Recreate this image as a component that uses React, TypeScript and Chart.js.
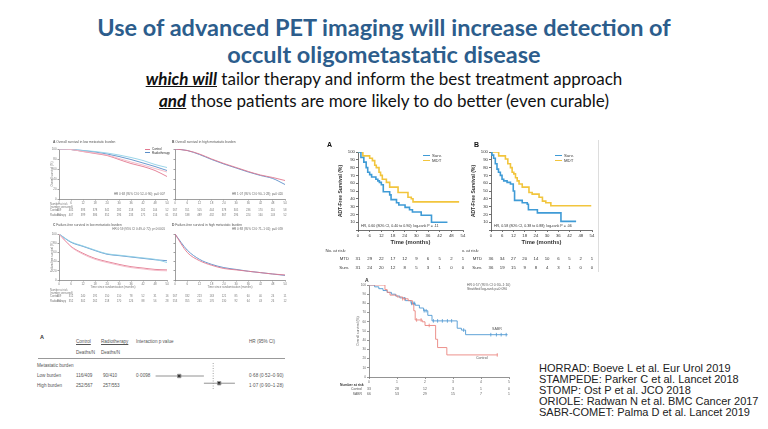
import React, { useEffect, useRef } from "react";
import { Chart, registerables } from "chart.js";

Chart.register(...registerables);

const FAM = '"Liberation Sans", Arial, sans-serif';
const TFAM = 'Lato, "Open Sans", sans-serif';
const TITLE_COLOR = "#2c5d8c";
const SURV_BLUE = "#3f9bd6";
const MDT_YELLOW = "#f2c53d";
const CTRL_RED = "#e2788f";
const CTRL_RED_LT = "#f3b6c4";
const RT_BLUE = "#5b8ec8";
const RT_BLUE_LT = "#8fd0e6";
const SABR_BLUE = "#4f98d2";
const SABR_RED = "#ea857f";

// ---------------- STOMP (ADT-free survival, months) ----------------
const stompMonths = [0, 6, 12, 18, 24, 30, 36, 42, 48, 54];
const stompPct = [0, 10, 20, 30, 40, 50, 60, 70, 80, 90, 100];
const stompA_survT = [0, 1.5, 3.0, 4.2, 5.0, 6.0, 7.0, 9.2, 10.2, 11.0, 12.0, 13.0, 16.3, 17.0, 19.8, 21.0, 24.2, 26.5, 28.0, 32.5, 37.8, 46.0];
const stompA_survS = [100, 93, 87, 80, 74, 71, 68, 65, 63, 61, 58, 49, 45, 39, 35, 32, 29, 26, 23, 19, 10, 10];
const stompA_mdtT = [0, 2.5, 6.0, 7.4, 8.6, 9.4, 10.8, 11.6, 12.5, 14.6, 16.3, 20.6, 25.7, 27.4, 28.3, 52.0];
const stompA_mdtS = [100, 95, 92, 89, 83, 80, 74, 70, 65, 61, 55, 48, 42, 40, 36, 36];
const stompA_riskMdt = [31, 29, 22, 17, 12, 9, 6, 5, 2, 1];
const stompA_riskSurv = [31, 24, 20, 12, 8, 5, 3, 1, 0, 0];
const stompB_survT = [0, 0.5, 1.4, 2.3, 3.2, 4.0, 5.0, 5.9, 6.8, 8.6, 10.4, 11.9, 12.6, 16.7, 19.4, 20.0, 24.8, 37.4, 45.5];
const stompB_survS = [100, 96, 92, 85, 78, 74, 70, 65, 63, 61, 59, 50, 38, 35, 33, 26, 22, 11, 11];
const stompB_mdtT = [0, 4.1, 7.7, 9.0, 10.4, 11.3, 12.2, 13.1, 14.0, 15.0, 16.7, 20.3, 22.0, 25.7, 27.5, 29.3, 32.0, 53.6];
const stompB_mdtS = [100, 95, 91, 85, 80, 74, 72, 67, 63, 59, 55, 48, 46, 42, 37, 35, 31, 31];
const stompB_riskMdt = [36, 34, 27, 20, 14, 10, 6, 5, 2, 1];
const stompB_riskSurv = [36, 19, 15, 9, 8, 4, 3, 1, 0, 0];

// ---------------- SABR-COMET (overall survival, years) ----------------
const sabrYears = [0, 1, 2, 3, 4, 5];
const sabrPct = [0, 10, 20, 30, 40, 50, 60, 70, 80, 90, 100];
const sabrT = [0, 0.2, 0.35, 0.5, 0.65, 0.8, 0.95, 1.1, 1.3, 1.5, 1.65, 1.8, 1.95, 2.1, 2.25, 3.15, 3.3, 3.45, 4.95];
const sabrS = [100, 98, 96, 94, 92, 90, 88, 86, 83, 80, 78, 75, 72, 67, 61, 53, 51, 46, 46];
const ctrlT = [0, 0.57, 0.65, 0.75, 1.0, 1.2, 1.4, 1.55, 1.6, 1.65, 1.9, 2.0, 2.38, 2.45, 2.78, 4.6];
const ctrlS = [100, 95, 92, 89, 87, 85, 83, 79, 72, 62, 60, 56, 41, 32, 24, 24];
const sabrCensorT = [1.52, 1.58, 1.63, 1.97, 2.04, 2.3, 2.45, 2.62, 2.8, 2.95, 3.38, 4.35, 4.55, 4.72, 4.9];
const ctrlCensorT = [1.2, 1.27, 1.7, 1.86, 2.15, 4.58];
const sabrRiskControl = [33, 28, 12, 3, 1, 0];
const sabrRiskSabr = [66, 53, 29, 15, 7, 1];

// ---------------- STAMPEDE (months) ----------------
const stampMonths = [0, 6, 12, 18, 24, 30, 36, 42, 48, 54];
const stampPct = [0, 20, 40, 60, 80, 100];
const stampA_ctrl = [100, 99, 95, 91, 87, 79, 71, 65, 57, 45];
const stampA_ctrlAlt = [100, 99, 95, 92, 88, 81, 74, 68, 61, 54];
const stampA_rt = [100, 99, 97, 94, 90, 85, 79, 72, 65, 57];
const stampA_rtAlt = [100, 99, 97, 95, 92, 88, 83, 77, 69, 63];
const stampB_ctrl = [100, 97, 90, 80, 71, 63, 55, 48, 43, 37];
const stampB_rt = [100, 97, 89, 79, 70, 62, 54, 47, 41, 29];
const stampC_ctrl = [100, 73, 58, 47, 40, 34, 29, 26, 23, 22];
const stampC_ctrlAlt = [100, 72, 56, 45, 38, 32, 27, 24, 21, 20];
const stampC_rt = [100, 82, 73, 64, 56, 53, 50, 47, 44, 42];
const stampC_rtAlt = [100, 83, 74, 65, 57, 54, 51, 48, 45, 38];
const stampD_ctrl = [100, 60, 42, 32, 25, 22, 19, 16, 13, 11];
const stampD_rt = [100, 65, 45, 34, 27, 23, 19, 16, 13, 10];
const stampA_riskCtrl = [409, 405, 393, 378, 341, 282, 218, 162, 104, 52];
const stampA_riskRt = [410, 407, 399, 386, 352, 296, 233, 175, 116, 61];
const stampB_riskCtrl = [567, 551, 505, 444, 378, 305, 236, 170, 110, 58];
const stampB_riskRt = [553, 538, 489, 432, 367, 296, 224, 160, 103, 52];
const stampC_riskCtrl = [409, 312, 240, 191, 150, 110, 78, 52, 31, 16];
const stampC_riskRt = [410, 352, 302, 262, 218, 170, 126, 88, 56, 28];
const stampD_riskCtrl = [567, 332, 223, 163, 121, 85, 60, 40, 24, 11];
const stampD_riskRt = [553, 355, 245, 176, 130, 92, 64, 43, 26, 12];

// ---------------- STAMPEDE forest plot ----------------
const forestRows = ["Low burden", "High burden"];
const forestCtrl = ["116/409", "252/567"];
const forestRt = ["90/410", "257/553"];
const forestP = ["0·0098", ""];
const forestHR = [0.68, 1.07];
const forestLo = [0.52, 0.9];
const forestHi = [0.9, 1.28];
const forestHRtxt = ["0·68 (0·52–0·90)", "1·07 (0·90–1·28)"];

// ---------------- references ----------------
const references = [
  "HORRAD: Boeve L et al. Eur Urol 2019",
  "STAMPEDE: Parker C et al. Lancet 2018",
  "STOMP: Ost P et al. JCO 2018",
  "ORIOLE: Radwan N et al. BMC Cancer 2017",
  "SABR-COMET: Palma D et al. Lancet 2019",
];

// ---------------- helpers ----------------
const fitAxis = (size: number, vertical: boolean) => (s: any) => {
  if (vertical) s.width = size;
  else s.height = size;
  s.paddingLeft = 0;
  s.paddingRight = 0;
  s.paddingTop = 0;
  s.paddingBottom = 0;
};

interface AxOpt {
  min: number;
  max: number;
  ticks: number[];
  size: number;
  font: number;
  color: string;
  title?: string;
  titleFont?: number;
  bold?: boolean;
  labels?: boolean;
  hideZero?: boolean;
  tickLen?: number;
}

function axis(vertical: boolean, o: AxOpt) {
  return {
    type: "linear",
    min: o.min,
    max: o.max,
    afterBuildTicks: (s: any) => {
      s.ticks = o.ticks.map((v) => ({ value: v }));
    },
    afterFit: fitAxis(o.size, vertical),
    grid: { display: true, drawOnChartArea: false, drawTicks: true, tickLength: o.tickLen ?? 2, color: o.color, lineWidth: 0.7 },
    border: { display: true, color: o.color, width: 0.7 },
    ticks: {
      display: o.labels !== false,
      autoSkip: false,
      maxRotation: 0,
      minRotation: 0,
      padding: 1,
      color: o.color,
      font: { size: o.font, family: FAM },
      callback: (v: any) => (o.hideZero && Number(v) === 0 ? "" : String(v)),
    },
    title: {
      display: !!o.title,
      text: o.title || "",
      color: o.color,
      padding: 0,
      font: { size: o.titleFont || o.font, family: FAM, weight: o.bold ? "bold" : "normal" },
    },
  };
}

const km = (T: number[], S: number[], color: string, width = 1.2) => ({
  data: T.map((t, i) => ({ x: t, y: S[i] })),
  borderColor: color,
  backgroundColor: color,
  borderWidth: width,
  stepped: "before",
  pointRadius: 0,
  fill: false,
});

const smooth = (T: number[], S: number[], color: string, width = 0.9) => ({
  data: T.map((t, i) => ({ x: t, y: S[i] })),
  borderColor: color,
  backgroundColor: color,
  borderWidth: width,
  cubicInterpolationMode: "monotone",
  pointRadius: 0,
  fill: false,
});

const stepAt = (T: number[], S: number[], t: number) => {
  let v = S[0];
  for (let i = 0; i < T.length; i++) if (T[i] <= t) v = S[i];
  return v;
};

const censor = (times: number[], T: number[], S: number[], color: string) => ({
  data: times.map((t) => ({ x: t, y: stepAt(T, S, t) })),
  showLine: false,
  pointStyle: "line",
  rotation: 90,
  pointRadius: 1.8,
  borderColor: color,
  backgroundColor: color,
  borderWidth: 0.8,
});

interface RiskRow {
  label: string;
  values?: (number | string)[];
  dy: number;
  bold?: boolean;
}

function riskPlugin(o: {
  times: number[];
  rows: RiskRow[];
  font: number;
  color: string;
  labelAlign: "left" | "right";
  labelX: number;
}) {
  return {
    id: "riskTable",
    afterDraw(chart: any) {
      const { ctx, chartArea } = chart;
      const xs = chart.scales.x;
      ctx.save();
      ctx.fillStyle = o.color;
      ctx.textBaseline = "middle";
      for (const r of o.rows) {
        const y = chartArea.bottom + r.dy;
        ctx.font = `${r.bold ? "bold " : ""}${o.font}px ${FAM}`;
        if (o.labelAlign === "left") {
          ctx.textAlign = "left";
          ctx.fillText(r.label, o.labelX, y);
        } else {
          ctx.textAlign = "right";
          ctx.fillText(r.label, chartArea.left - o.labelX, y);
        }
        ctx.font = `${o.font}px ${FAM}`;
        ctx.textAlign = "center";
        (r.values || []).forEach((v, i) => ctx.fillText(String(v), xs.getPixelForValue(o.times[i]), y));
      }
      ctx.restore();
    },
  };
}

const baseOpts = {
  responsive: false,
  maintainAspectRatio: false,
  animation: false,
  devicePixelRatio: 1,
  events: [],
  plugins: { legend: { display: false }, tooltip: { enabled: false }, title: { display: false } },
};

function ChartBox({ x, y, w, h, cfg }: { x: number; y: number; w: number; h: number; cfg: () => any }) {
  const ref = useRef<HTMLCanvasElement | null>(null);
  useEffect(() => {
    if (!ref.current) return;
    const c = new Chart(ref.current, cfg());
    return () => c.destroy();
  }, []);
  return (
    <div style={{ position: "absolute", left: x, top: y, width: w, height: h }}>
      <canvas ref={ref} width={w} height={h} style={{ display: "block", width: w, height: h }} />
    </div>
  );
}

// ---------------- chart configs ----------------
function stompCfg(survT: number[], survS: number[], mdtT: number[], mdtS: number[], riskMdt: number[], riskSurv: number[], padLeft: number) {
  return {
    type: "line",
    data: { datasets: [km(survT, survS, SURV_BLUE, 1.6), km(mdtT, mdtS, MDT_YELLOW, 1.6)] },
    options: {
      ...baseOpts,
      layout: { padding: { left: padLeft, top: 7, right: 5, bottom: 42 } },
      scales: {
        x: axis(false, { min: 0, max: 54, ticks: stompMonths, size: 16, font: 4.3, color: "#333", title: "Time (months)", titleFont: 5.8, bold: true }),
        y: axis(true, { min: 0, max: 100, ticks: stompPct, size: 20, font: 4.3, color: "#333", title: "ADT-Free Survival (%)", titleFont: 5, bold: true, hideZero: true }),
      },
    },
    plugins: [
      riskPlugin({
        times: stompMonths,
        font: 4.3,
        color: "#333",
        labelAlign: "right",
        labelX: 9,
        rows: [
          { label: "MTD", values: riskMdt, dy: 29 },
          { label: "Surv.", values: riskSurv, dy: 37.5 },
        ],
      }),
      {
        id: "noRisk",
        afterDraw(chart: any) {
          const { ctx, chartArea } = chart;
          ctx.save();
          ctx.fillStyle = "#333";
          ctx.font = `4.3px ${FAM}`;
          ctx.textBaseline = "middle";
          ctx.textAlign = "right";
          ctx.fillText("No. at risk:", chartArea.left - 12, chartArea.bottom + 21);
          ctx.restore();
        },
      },
    ],
  };
}

function sabrCfg() {
  return {
    type: "line",
    data: {
      datasets: [
        km(ctrlT, ctrlS, SABR_RED, 0.9),
        km(sabrT, sabrS, SABR_BLUE, 0.9),
        censor(ctrlCensorT, ctrlT, ctrlS, SABR_RED),
        censor(sabrCensorT, sabrT, sabrS, SABR_BLUE),
      ],
    },
    options: {
      ...baseOpts,
      layout: { padding: { left: 18, top: 8, right: 6, bottom: 14 } },
      scales: {
        x: axis(false, { min: 0, max: 5, ticks: sabrYears, size: 8, font: 3.4, color: "#666" }),
        y: axis(true, { min: 0, max: 100, ticks: sabrPct, size: 13, font: 3.2, color: "#666", title: "Overall survival (%)", titleFont: 3.4 }),
      },
    },
    plugins: [
      riskPlugin({
        times: sabrYears,
        font: 3.4,
        color: "#555",
        labelAlign: "right",
        labelX: 7,
        rows: [
          { label: "Control", values: sabrRiskControl, dy: 12 },
          { label: "SABR", values: sabrRiskSabr, dy: 17 },
        ],
      }),
      {
        id: "numRisk",
        afterDraw(chart: any) {
          const { ctx, chartArea } = chart;
          ctx.save();
          ctx.fillStyle = "#333";
          ctx.font = `bold 3.4px ${FAM}`;
          ctx.textBaseline = "middle";
          ctx.textAlign = "left";
          ctx.fillText("Number at risk", 2, chartArea.bottom + 8);
          ctx.restore();
        },
      },
    ],
  };
}

function stampCfg(o: {
  lines: any[];
  padT: number;
  padB: number;
  yW: number;
  xH: number;
  yLabels: boolean;
  yTitle?: string;
  xTitle?: string;
  riskCtrl: number[];
  riskRt: number[];
  dyCtrl: number;
  dyRt: number;
  leftLabels: boolean;
}) {
  const rows: RiskRow[] = [
    { label: o.leftLabels ? "Control" : "", values: o.riskCtrl, dy: o.dyCtrl },
    { label: o.leftLabels ? "Radiotherapy" : "", values: o.riskRt, dy: o.dyRt },
  ];
  if (o.leftLabels) {
    rows.unshift({ label: "(number censored)", dy: o.dyCtrl - 3.3 });
    rows.unshift({ label: "Number at risk", dy: o.dyCtrl - 6.6 });
  }
  return {
    type: "line",
    data: { datasets: o.lines },
    options: {
      ...baseOpts,
      layout: { padding: { left: 0, top: o.padT, right: 3, bottom: o.padB } },
      scales: {
        x: axis(false, { min: 0, max: 54, ticks: stampMonths, size: o.xH, font: 2.9, color: "#777", title: o.xTitle, titleFont: 2.9, tickLen: 1.5 }),
        y: axis(true, { min: 0, max: 100, ticks: stampPct, size: o.yW, font: 2.9, color: "#777", title: o.yTitle, titleFont: 2.9, labels: o.yLabels, tickLen: 1.5 }),
      },
    },
    plugins: [
      riskPlugin({
        times: stampMonths,
        font: 2.7,
        color: "#777",
        labelAlign: "left",
        labelX: 0,
        rows,
      }),
    ],
  };
}

function forestCfg() {
  const ciSets = forestRows.map((_, i) => ({
    data: [
      { x: forestLo[i], y: i + 1 },
      { x: forestHi[i], y: i + 1 },
    ],
    borderColor: "#777",
    borderWidth: 0.8,
    pointRadius: 0,
    fill: false,
  }));
  return {
    type: "line",
    data: {
      datasets: [
        {
          data: [
            { x: 1, y: -0.8 },
            { x: 1, y: 2.8 },
          ],
          borderColor: "#8a8a8a",
          borderWidth: 0.8,
          borderDash: [1, 1.5],
          pointRadius: 0,
          fill: false,
        },
        ...ciSets,
        {
          data: forestRows.map((_, i) => ({ x: forestHR[i], y: i + 1 })),
          showLine: false,
          pointStyle: "rect",
          pointRadius: 2.4,
          backgroundColor: "#111",
          borderColor: "#9a9a9a",
          borderWidth: 1,
          clip: false,
        },
      ],
    },
    options: {
      ...baseOpts,
      layout: { padding: 0 },
      scales: {
        x: { type: "logarithmic", min: 0.461, max: 1.435, display: false },
        y: { type: "linear", min: -0.8, max: 2.8, reverse: true, display: false },
      },
    },
  };
}

// ---------------- text helpers ----------------
function At({ x, y, s, c = "#444", b, al = "left", children, fam = FAM, st }: any) {
  const style: any = {
    position: "absolute",
    top: y - s * 0.6,
    fontSize: s,
    lineHeight: `${s * 1.2}px`,
    color: c,
    fontWeight: b ? 700 : 400,
    whiteSpace: "nowrap",
    fontFamily: fam,
    ...st,
  };
  if (al === "right") style.right = 768 - x;
  else style.left = x;
  return <div style={style}>{children}</div>;
}

function LegendItem({ x, y, color, label, s, lw = 1.3, len = 7 }: any) {
  return (
    <div style={{ position: "absolute", left: x, top: y - s * 0.6, height: s * 1.2, display: "flex", alignItems: "center", whiteSpace: "nowrap", fontSize: s, fontFamily: FAM, color: "#333" }}>
      <span style={{ display: "inline-block", width: len, height: 0, borderTop: `${lw}px solid ${color}`, marginRight: 2 }} />
      {label}
    </div>
  );
}

export default function App() {
  return (
    <div style={{ position: "fixed", left: 0, top: 0, width: 768, height: 429, background: "#fff", overflow: "hidden", fontFamily: FAM }}>
      {/* Title */}
      <div style={{ position: "absolute", left: 0, top: 13, width: 768, textAlign: "center", fontFamily: TFAM, fontWeight: 700, fontSize: 23.5, lineHeight: "28px", color: TITLE_COLOR }}>
        Use of advanced PET imaging will increase detection of
      </div>
      <div style={{ position: "absolute", left: 0, top: 40, width: 768, textAlign: "center", fontFamily: TFAM, fontWeight: 700, fontSize: 23.5, lineHeight: "28px", color: TITLE_COLOR }}>
        occult oligometastatic disease
      </div>
      <div style={{ position: "absolute", left: 0, top: 69, width: 768, textAlign: "center", fontFamily: TFAM, fontSize: 17, lineHeight: "20px", color: "#111" }}>
        <u>
          <b>
            <i>which will</i>
          </b>
        </u>{" "}
        tailor therapy and inform the best treatment approach
      </div>
      <div style={{ position: "absolute", left: 0, top: 91, width: 768, textAlign: "center", fontFamily: TFAM, fontSize: 17, lineHeight: "20px", color: "#111" }}>
        <u>
          <b>
            <i>and</i>
          </b>
        </u>{" "}
        those patients are more likely to do better (even curable)
      </div>

      {/* STAMPEDE 2x2 survival panels */}
      <ChartBox
        x={50}
        y={141}
        w={120}
        h={80}
        cfg={() =>
          stampCfg({
            lines: [
              smooth(stampMonths, stampA_ctrlAlt, CTRL_RED_LT),
              smooth(stampMonths, stampA_rtAlt, RT_BLUE_LT),
              smooth(stampMonths, stampA_ctrl, CTRL_RED),
              smooth(stampMonths, stampA_rt, RT_BLUE),
            ],
            padT: 8,
            padB: 17,
            yW: 9,
            xH: 5,
            yLabels: true,
            yTitle: "Overall survival (%)",
            riskCtrl: stampA_riskCtrl,
            riskRt: stampA_riskRt,
            dyCtrl: 11.5,
            dyRt: 16,
            leftLabels: true,
          })
        }
      />
      <ChartBox
        x={170}
        y={141}
        w={118}
        h={80}
        cfg={() =>
          stampCfg({
            lines: [smooth(stampMonths, stampB_ctrl, CTRL_RED), smooth(stampMonths, stampB_rt, RT_BLUE)],
            padT: 8,
            padB: 17,
            yW: 5,
            xH: 5,
            yLabels: false,
            riskCtrl: stampB_riskCtrl,
            riskRt: stampB_riskRt,
            dyCtrl: 11.5,
            dyRt: 16,
            leftLabels: false,
          })
        }
      />
      <ChartBox
        x={50}
        y={226}
        w={120}
        h={78}
        cfg={() =>
          stampCfg({
            lines: [
              smooth(stampMonths, stampC_ctrlAlt, CTRL_RED_LT),
              smooth(stampMonths, stampC_rtAlt, RT_BLUE_LT),
              smooth(stampMonths, stampC_ctrl, CTRL_RED),
              smooth(stampMonths, stampC_rt, RT_BLUE),
            ],
            padT: 8,
            padB: 15,
            yW: 9,
            xH: 9,
            yLabels: true,
            yTitle: "Failure-free survival (%)",
            xTitle: "Time since randomisation (months)",
            riskCtrl: stampC_riskCtrl,
            riskRt: stampC_riskRt,
            dyCtrl: 16.5,
            dyRt: 21,
            leftLabels: true,
          })
        }
      />
      <ChartBox
        x={170}
        y={226}
        w={118}
        h={78}
        cfg={() =>
          stampCfg({
            lines: [smooth(stampMonths, stampD_ctrl, CTRL_RED), smooth(stampMonths, stampD_rt, RT_BLUE)],
            padT: 8,
            padB: 15,
            yW: 5,
            xH: 9,
            yLabels: false,
            xTitle: "Time since randomisation (months)",
            riskCtrl: stampD_riskCtrl,
            riskRt: stampD_riskRt,
            dyCtrl: 16.5,
            dyRt: 21,
            leftLabels: false,
          })
        }
      />
      <At x={53} y={143} s={3.3} c="#555"><b>A</b> Overall survival in low metastatic burden</At>
      <At x={172} y={143} s={3.3} c="#555"><b>B</b> Overall survival in high metastatic burden</At>
      <At x={53} y={226} s={3.3} c="#555"><b>C</b> Failure-free survival in low metastatic burden</At>
      <At x={172} y={226} s={3.3} c="#555"><b>D</b> Failure-free survival in high metastatic burden</At>
      <LegendItem x={145} y={149.5} s={3} color={CTRL_RED} label="Control" lw={0.8} len={5} />
      <LegendItem x={145} y={153} s={3} color={RT_BLUE} label="Radiotherapy" lw={0.8} len={5} />
      <At x={165} y={195} s={3} c="#666" al="right">HR 0·68 (95% CI 0·52–0·90); p=0·007</At>
      <At x={283} y={195} s={3} c="#666" al="right">HR 1·07 (95% CI 0·90–1·28); p=0·420</At>
      <At x={165} y={230} s={3} c="#666" al="right">HR 0·59 (95% CI 0·49–0·72); p&lt;0·0001</At>
      <At x={283} y={230} s={3} c="#666" al="right">HR 0·88 (95% CI 0·71–1·01); p=0·059</At>

      {/* STAMPEDE forest plot */}
      <At x={40} y={337} s={5.5} c="#333" b>A</At>
      <At x={76} y={342} s={4.6} c="#555" st={{ textDecoration: "underline" }}>Control</At>
      <At x={101} y={342} s={4.6} c="#555" st={{ textDecoration: "underline" }}>Radiotherapy</At>
      <At x={136} y={342} s={4.6} c="#555">Interaction p value</At>
      <At x={249} y={342} s={4.6} c="#555">HR (95% CI)</At>
      <At x={76} y={353} s={4.6} c="#555">Deaths/N</At>
      <At x={101} y={353} s={4.6} c="#555">Deaths/N</At>
      <div style={{ position: "absolute", left: 38, top: 358, width: 247, height: 0, borderTop: "0.8px solid #999" }} />
      <At x={37} y={366} s={4.6} c="#555">Metastatic burden</At>
      {forestRows.map((r, i) => (
        <React.Fragment key={r}>
          <At x={37} y={376 + i * 10} s={4.6} c="#555">{r}</At>
          <At x={76} y={376 + i * 10} s={4.6} c="#555">{forestCtrl[i]}</At>
          <At x={103} y={376 + i * 10} s={4.6} c="#555">{forestRt[i]}</At>
          <At x={136} y={376 + i * 10} s={4.6} c="#555">{forestP[i]}</At>
          <At x={249} y={376 + i * 10} s={4.6} c="#555">{forestHRtxt[i]}</At>
        </React.Fragment>
      ))}
      <ChartBox x={140} y={358} w={110} h={36} cfg={forestCfg} />

      {/* STOMP panels */}
      <ChartBox x={322} y={145} w={146} h={143} cfg={() => stompCfg(stompA_survT, stompA_survS, stompA_mdtT, stompA_mdtS, stompA_riskMdt, stompA_riskSurv, 16)} />
      <ChartBox x={462} y={145} w={135} h={143} cfg={() => stompCfg(stompB_survT, stompB_survS, stompB_mdtT, stompB_mdtS, stompB_riskMdt, stompB_riskSurv, 9)} />
      <At x={327} y={145} s={7} c="#111" b>A</At>
      <At x={474} y={145} s={7} c="#111" b>B</At>
      <LegendItem x={423} y={156} s={4.3} color={SURV_BLUE} label="Surv." />
      <LegendItem x={423} y={161} s={4.3} color={MDT_YELLOW} label="MDT" />
      <LegendItem x={555} y={156} s={4.3} color={SURV_BLUE} label="Surv." />
      <LegendItem x={555} y={161} s={4.3} color={MDT_YELLOW} label="MDT" />
      <At x={361} y={226} s={3.6} c="#333">HR, 0.60 (80% CI, 0.40 to 0.90); log-rank P = .11</At>
      <At x={494} y={226} s={3.6} c="#333">HR, 0.58 (80% CI, 0.38 to 0.88); log-rank P = .06</At>
      <div style={{ position: "absolute", left: 598, top: 140, width: 0, height: 132, borderLeft: "1px solid #ddd" }} />

      {/* SABR-COMET */}
      <ChartBox x={338} y={277} w={177} h={122} cfg={sabrCfg} />
      <At x={365} y={280} s={5} c="#333" b>A</At>
      <At x={467} y={285} s={3.4} c="#555">HR 0·57 (95% CI 0·30–1·10)</At>
      <At x={467} y={289.5} s={3.4} c="#555">Stratified log-rank p=0·090</At>
      <At x={492} y={329} s={3.6} c="#555">SABR</At>
      <At x={476} y={358} s={3.6} c="#555">Control</At>

      {/* references */}
      {references.map((r, i) => (
        <At key={r} x={539} y={369 + i * 11} s={11} c="#222">
          {r}
        </At>
      ))}
    </div>
  );
}
